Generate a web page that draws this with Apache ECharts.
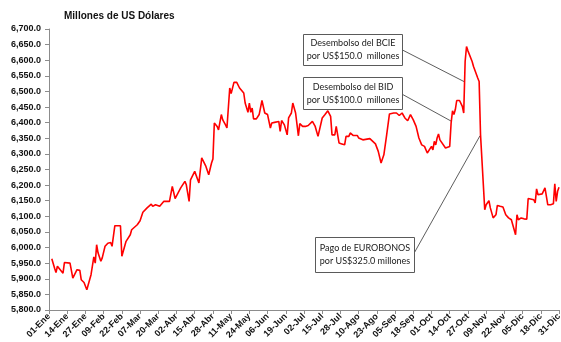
<!DOCTYPE html>
<html>
<head>
<meta charset="utf-8">
<script src="https://cdn.jsdelivr.net/npm/echarts@6/dist/echarts.min.js"></script>
<style>
  html, body { margin: 0; padding: 0; background: #fff; }
  #chart { width: 561px; height: 342px; }
</style>
</head>
<body>
<div id="chart"></div>
<script>
// Reservas internacionales, millones de US$ (día del año 0 = 01-Ene)
const meses = ['Ene', 'Feb', 'Mar', 'Abr', 'May', 'Jun', 'Jul', 'Ago', 'Sep', 'Oct', 'Nov', 'Dic'];

const dias = [
  2, 4, 5, 6, 8, 10, 11, 12, 15, 17, 18, 20, 22, 23, 24, 25, 27, 30, 32, 33,
  34, 35, 37, 38, 39, 40, 42, 44, 45, 47, 51, 52, 53, 55, 58, 59, 60, 63, 65, 67,
  70, 73, 74, 76, 79, 80, 82, 86, 88, 89, 90, 94, 97, 98, 100, 101, 104, 107, 109, 112,
  114, 116, 117, 118, 120, 121, 123, 124, 126, 127, 129, 130, 132, 134, 136, 137, 139, 140, 142, 143,
  144, 145, 146, 148, 150, 152, 154, 156, 158, 159, 161, 164, 165, 166, 168, 170, 171, 173, 174, 176,
  178, 179, 181, 183, 185, 188, 190, 192, 195, 197, 199, 201, 202, 204, 205, 206, 207, 209, 211, 212,
  214, 215, 217, 220, 221, 224, 229, 230, 233, 235, 237, 239, 241, 243, 246, 248, 250, 252, 254, 256,
  258, 260, 262, 264, 265, 266, 268, 270, 271, 273, 274, 275, 276, 277, 278, 279, 280, 283, 284, 286,
  287, 288, 289, 290, 291, 293, 295, 296, 297, 298, 299, 300, 302, 303, 304, 306, 307, 308, 310, 311,
  312, 314, 315, 317, 319, 320, 322, 324, 326, 328, 330, 331, 332, 333, 334, 335, 337, 339, 341, 342,
  343, 346, 347, 348, 349, 352, 354, 356, 358, 360, 361, 362, 363, 364
];

const reservas = [
  5964, 5934, 5920, 5940, 5929, 5918, 5952, 5956, 5950, 5902, 5902, 5929, 5927, 5897, 5900, 5888, 5865, 5913, 5970, 5950,
  6009, 5983, 5956, 5967, 5961, 6004, 6014, 6016, 6004, 6070, 6070, 5972, 5967, 6020, 6041, 6057, 6059, 6073, 6086, 6113,
  6127, 6139, 6132, 6137, 6132, 6127, 6148, 6148, 6196, 6194, 6157, 6191, 6212, 6201, 6148, 6217, 6244, 6207, 6287, 6260,
  6233, 6271, 6284, 6399, 6388, 6377, 6426, 6409, 6393, 6383, 6511, 6493, 6529, 6529, 6511, 6508, 6495, 6463, 6433, 6463,
  6433, 6447, 6412, 6412, 6426, 6471, 6431, 6426, 6383, 6399, 6401, 6404, 6372, 6407, 6393, 6361, 6415, 6431, 6463, 6431,
  6358, 6397, 6388, 6388, 6391, 6404, 6388, 6356, 6415, 6426, 6438, 6420, 6361, 6361, 6388, 6393, 6335, 6332, 6329, 6356,
  6356, 6367, 6359, 6359, 6351, 6345, 6349, 6351, 6332, 6308, 6271, 6297, 6361, 6428, 6431, 6431, 6423, 6431, 6415, 6406,
  6426, 6409, 6388, 6351, 6356, 6329, 6324, 6303, 6308, 6324, 6313, 6340, 6329, 6351, 6364, 6345, 6342, 6319, 6317, 6324,
  6399, 6438, 6426, 6442, 6471, 6471, 6452, 6431, 6596, 6644, 6630, 6626, 6596, 6580, 6578, 6543, 6532, 6361, 6201, 6121,
  6137, 6150, 6127, 6095, 6105, 6135, 6132, 6130, 6105, 6095, 6089, 6073, 6068, 6041, 6105, 6089, 6095, 6092, 6091, 6157,
  6157, 6153, 6143, 6188, 6169, 6172, 6191, 6137, 6137, 6140, 6204, 6148, 6180, 6193
];

// Anotaciones: texto y extremos de la línea guía [día, valor]
const notaTextos = [
  ['Desembolso del BCIE', 'por US$150.0  millones'],
  ['Desembolso del BID', 'por US$100.0  millones'],
  ['Pago de EUROBONOS', 'por US$325.0 millones']
];
const notaGuias = [
  [[251.7, 6634], [296.9, 6530]],
  [[251.7, 6492], [287.4, 6404]],
  [[260.7, 5983], [307.6, 6358]]
];

function etiquetaDia(i) {
  const f = new Date(Date.UTC(2015, 0, 1 + i));
  const dd = String(f.getUTCDate()).padStart(2, '0');
  return dd + '-' + meses[f.getUTCMonth()];
}

function formatoMiles(v) {
  return v.toFixed(1).replace(/\B(?=(\d{3})+(?!\d))/g, ',');
}

const serie = dias.map((d, i) => [d, reservas[i]]);

const cajas = [
  { x: 303, y: 34, w: 99, h: 31 },
  { x: 303, y: 77, w: 99, h: 32 },
  { x: 315, y: 237, w: 99, h: 35 }
];

const graficos = [];
cajas.forEach((c, i) => {
  graficos.push({
    type: 'rect',
    shape: { x: c.x + 0.5, y: c.y + 0.5, width: c.w, height: c.h },
    style: { fill: '#fff', stroke: '#5a5a5a', lineWidth: 1 },
    z: 100
  });
  graficos.push({
    type: 'text',
    x: c.x + c.w / 2 + 0.5,
    y: c.y + c.h / 2 + 0.5,
    style: {
      text: notaTextos[i].join('\n'),
      align: 'center',
      verticalAlign: 'middle',
      font: '9px Lato, "Liberation Sans", sans-serif',
      lineHeight: 13,
      fill: '#1a1a1a'
    },
    z: 101
  });
});
graficos.push({
  type: 'text',
  left: 64,
  top: 11,
  style: {
    text: 'Millones de US Dólares',
    font: 'bold 10px "Liberation Sans", Arial, sans-serif',
    fill: '#111'
  }
});

const chart = echarts.init(document.getElementById('chart'), null, { renderer: 'canvas' });
chart.setOption({
  animation: false,
  backgroundColor: '#ffffff',
  grid: { left: 49, right: 2, top: 29, bottom: 32, containLabel: false, outerBoundsMode: 'none' },
  xAxis: {
    type: 'value',
    min: 0,
    max: 364,
    interval: 13,
    splitLine: { show: false },
    axisLine: { lineStyle: { color: '#8c8c8c', width: 1 } },
    axisTick: { show: true, length: 4, lineStyle: { color: '#8c8c8c' } },
    axisLabel: {
      rotate: 45,
      margin: 5,
      color: '#111',
      fontSize: 9,
      fontWeight: 'bold',
      fontFamily: '"Liberation Sans", Arial, sans-serif',
      formatter: v => etiquetaDia(v),
      showMinLabel: true,
      showMaxLabel: true
    }
  },
  yAxis: {
    type: 'value',
    min: 5800,
    max: 6700,
    interval: 50,
    splitLine: { show: false },
    axisLine: { show: true, lineStyle: { color: '#8c8c8c', width: 1 } },
    axisTick: { show: true, length: 4, lineStyle: { color: '#8c8c8c' } },
    axisLabel: {
      margin: 8,
      color: '#111',
      fontSize: 9,
      fontWeight: 'bold',
      fontFamily: '"Liberation Sans", Arial, sans-serif',
      formatter: v => formatoMiles(v)
    }
  },
  series: [{
    type: 'line',
    data: serie,
    showSymbol: false,
    symbol: 'none',
    lineStyle: { color: '#ff0000', width: 1.6 },
    z: 5,
    markLine: {
      silent: true,
      symbol: ['none', 'none'],
      label: { show: false },
      lineStyle: { color: '#333', width: 0.8, type: 'solid' },
      data: notaGuias.map(g => [{ coord: g[0] }, { coord: g[1] }])
    }
  }],
  graphic: graficos
});
</script>
</body>
</html>
